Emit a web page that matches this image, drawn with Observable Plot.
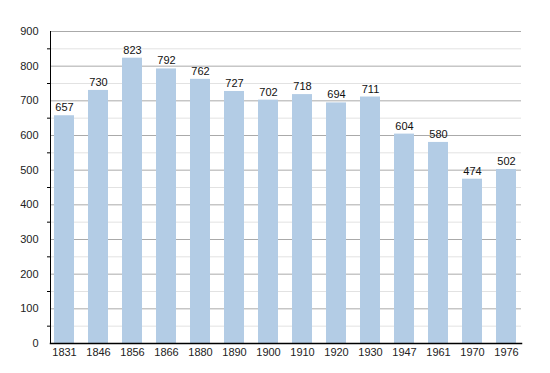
<!DOCTYPE html>
<html><head><meta charset="utf-8">
<script src="https://cdn.jsdelivr.net/npm/d3@7"></script>
<script src="https://cdn.jsdelivr.net/npm/@observablehq/plot@0.6"></script>
<style>body{margin:0;background:#fff;} svg{display:block;}</style>
</head><body><div id="chart"></div>
<script>
const years = ["1831","1846","1856","1866","1880","1890","1900","1910","1920","1930","1947","1961","1970","1976"];
const population = [657,730,823,792,762,727,702,718,694,711,604,580,474,502];
const majorTicks = [0,100,200,300,400,500,600,700,800,900];
const minorTicks = [50,150,250,350,450,550,650,750,850];

const data = years.map((y,i)=>({year:y, pop:population[i]}));

const chart = Plot.plot({
  width: 550, height: 373,
  marginLeft: 50, marginRight: 29, marginTop: 31, marginBottom: 30,
  style: {fontFamily: "Liberation Sans, Arial, sans-serif", fontSize: "11px", color: "#222", background: "#fff"},
  x: {domain: years, paddingInner: 0.4, paddingOuter: 0.03, label: null},
  y: {domain: [0, 900], label: null},
  marks: [
    Plot.ruleY(minorTicks, {stroke: "#e2e2e2", strokeWidth: 1}),
    Plot.ruleY(majorTicks.filter(d=>d>0), {stroke: "#aaaaaa", strokeWidth: 1}),
    Plot.barY(data, {x: "year", y: "pop", fill: "#b3cce5"}),
    Plot.text(data, {x: "year", y: "pop", text: d => String(d.pop), dy: -8, fill: "#111", fontSize: 11}),
    Plot.axisY({ticks: minorTicks, tickFormat: () => "", tickSize: 3, stroke: "#000", label: null}),
    Plot.axisY({ticks: majorTicks, tickSize: 0, tickPadding: 12, label: null}),
    Plot.axisX({tickSize: 0, tickPadding: 5, label: null}),
    Plot.frame({anchor: "left", stroke: "#000"}),
    Plot.frame({anchor: "bottom", stroke: "#000", strokeWidth: 1.5})
  ]
});
document.getElementById("chart").appendChild(chart);
</script></body></html>
